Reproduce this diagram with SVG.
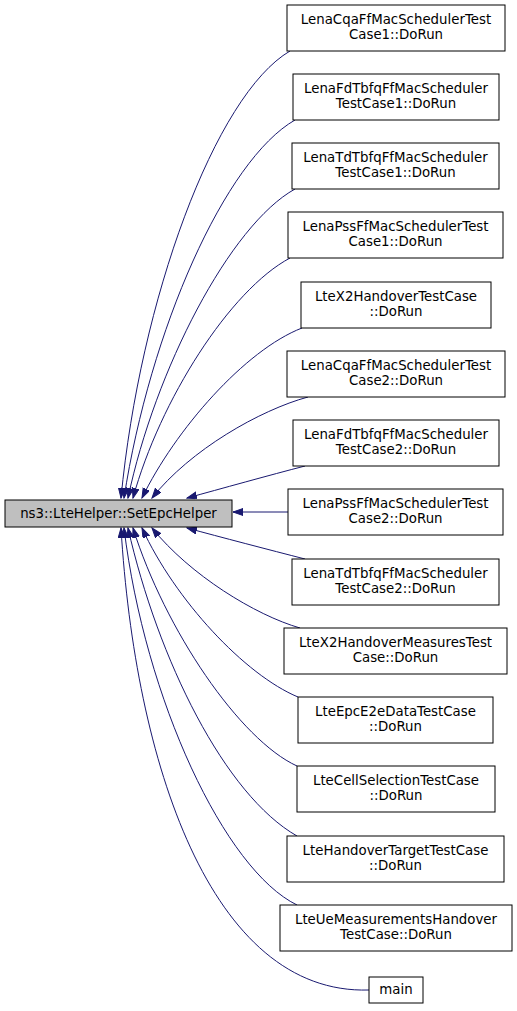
<svg xmlns="http://www.w3.org/2000/svg" width="517" height="1011" viewBox="0 0 517 1011">
<style>
.n rect{fill:#ffffff;stroke:#000000;stroke-width:1}
.n text{font-family:"DejaVu Sans",sans-serif;font-size:13.33px;text-anchor:middle;fill:#000000}
#main0 rect{fill:#bfbfbf}
.e path{fill:none;stroke:#191970;stroke-width:1;marker-end:url(#ah)}
</style>
<defs>
<marker id="ah" markerUnits="userSpaceOnUse" markerWidth="11" markerHeight="8" refX="10" refY="3.5" orient="auto" viewBox="0 0 11 8">
<path d="M0,0 L10,3.5 L0,7 z" fill="#191970" stroke="#191970"/>
</marker>
</defs>
<rect width="517" height="1011" fill="#ffffff"/>
<g id="edges" class="e">
<path d="M290,51 C215,95 140,300 121,498"/>
<path d="M295,120 C225,160 150,330 124,498"/>
<path d="M295,189 C230,225 155,370 128,498"/>
<path d="M290,258 C230,290 160,400 133,498"/>
<path d="M302,328 C245,350 175,430 142,498"/>
<path d="M308,397 C260,410 190,450 152,498"/>
<path d="M305,466 C270,475 220,489 187,498"/>
<path d="M288,512 L233,512"/>
<path d="M305,559 C270,550 220,537 187,528"/>
<path d="M300,628 C255,615 190,575 152,528"/>
<path d="M298,697 C245,675 175,600 142,528"/>
<path d="M297,766 C240,740 165,630 133,528"/>
<path d="M297,836 C225,795 158,660 128,528"/>
<path d="M297,905 C225,870 145,700 124,528"/>
<path d="M369,990 C210,995 135,760 121,528"/>
</g>
<g id="main0" class="n"><rect x="5" y="500" width="227" height="27"/><text x="118.5" y="518">ns3::LteHelper::SetEpcHelper</text></g>
<g id="n1" class="n"><rect x="287" y="5" width="218" height="46"/><text x="396" y="24">LenaCqaFfMacSchedulerTest</text><text x="396" y="39">Case1::DoRun</text></g>
<g id="n2" class="n"><rect x="293" y="74" width="206" height="46"/><text x="396" y="93">LenaFdTbfqFfMacScheduler</text><text x="396" y="108">TestCase1::DoRun</text></g>
<g id="n3" class="n"><rect x="292" y="143" width="207" height="46"/><text x="395.5" y="162">LenaTdTbfqFfMacScheduler</text><text x="395.5" y="177">TestCase1::DoRun</text></g>
<g id="n4" class="n"><rect x="288" y="212" width="215" height="46"/><text x="395.5" y="231">LenaPssFfMacSchedulerTest</text><text x="395.5" y="246">Case1::DoRun</text></g>
<g id="n5" class="n"><rect x="301" y="282" width="190" height="46"/><text x="396" y="301">LteX2HandoverTestCase</text><text x="396" y="316">::DoRun</text></g>
<g id="n6" class="n"><rect x="287" y="351" width="218" height="46"/><text x="396" y="370">LenaCqaFfMacSchedulerTest</text><text x="396" y="385">Case2::DoRun</text></g>
<g id="n7" class="n"><rect x="293" y="420" width="206" height="46"/><text x="396" y="439">LenaFdTbfqFfMacScheduler</text><text x="396" y="454">TestCase2::DoRun</text></g>
<g id="n8" class="n"><rect x="288" y="489" width="215" height="46"/><text x="395.5" y="508">LenaPssFfMacSchedulerTest</text><text x="395.5" y="523">Case2::DoRun</text></g>
<g id="n9" class="n"><rect x="292" y="559" width="207" height="46"/><text x="395.5" y="578">LenaTdTbfqFfMacScheduler</text><text x="395.5" y="593">TestCase2::DoRun</text></g>
<g id="n10" class="n"><rect x="284" y="628" width="223" height="46"/><text x="395.5" y="647">LteX2HandoverMeasuresTest</text><text x="395.5" y="662">Case::DoRun</text></g>
<g id="n11" class="n"><rect x="298" y="697" width="195" height="46"/><text x="395.5" y="716">LteEpcE2eDataTestCase</text><text x="395.5" y="731">::DoRun</text></g>
<g id="n12" class="n"><rect x="297" y="766" width="198" height="46"/><text x="396" y="785">LteCellSelectionTestCase</text><text x="396" y="800">::DoRun</text></g>
<g id="n13" class="n"><rect x="287" y="836" width="217" height="46"/><text x="395.5" y="855">LteHandoverTargetTestCase</text><text x="395.5" y="870">::DoRun</text></g>
<g id="n14" class="n"><rect x="280" y="905" width="232" height="46"/><text x="396" y="924">LteUeMeasurementsHandover</text><text x="396" y="939">TestCase::DoRun</text></g>
<g id="n15" class="n"><rect x="369" y="977" width="54" height="26"/><text x="396" y="994">main</text></g>
</svg>
